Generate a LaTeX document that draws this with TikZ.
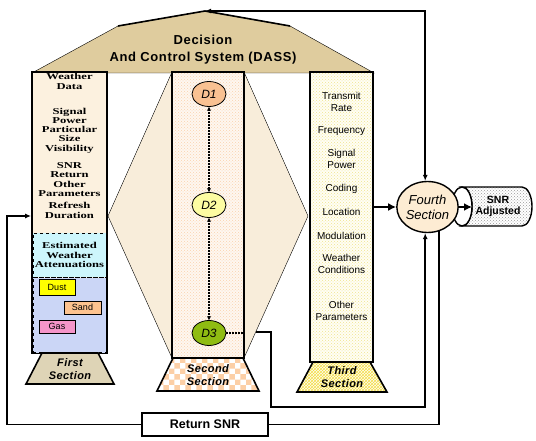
\documentclass[tikz,border=0pt]{standalone}
\usepackage{fontspec}
\setmainfont{Liberation Serif}
\setsansfont{Liberation Sans}
\newfontfamily\colfont{Liberation Serif}[FakeStretch=1.4]
\newfontfamily\roofont{Liberation Sans}[LetterSpace=5]
\newfontfamily\secfont{Liberation Sans}[LetterSpace=4]
\usepackage{xcolor}
\usepackage{tikz}
\usetikzlibrary{arrows.meta, positioning, calc, shapes.geometric, patterns}

\definecolor{roofcol}{HTML}{DFCC9E}
\definecolor{firstbg}{HTML}{FCF1DF}
\definecolor{hexbg}{HTML}{F8EDDA}
\definecolor{secondbg}{HTML}{FEF7F0}
\definecolor{seconddot}{HTML}{FAD2AE}
\definecolor{thirdbg}{HTML}{FFFEF4}
\definecolor{thirddot}{HTML}{F0E48E}
\definecolor{trapone}{HTML}{DED4B6}
\definecolor{traptwo}{HTML}{FCCFA6}
\definecolor{trapthree}{HTML}{F4DE4A}
\definecolor{estbg}{HTML}{CDF6FC}
\definecolor{attbg}{HTML}{CBD6F6}
\definecolor{dustcol}{HTML}{FFFF00}
\definecolor{sandcol}{HTML}{FDC38F}
\definecolor{gascol}{HTML}{F595C9}
\definecolor{donecol}{HTML}{F9C192}
\definecolor{dtwocol}{HTML}{FDFCA2}
\definecolor{dthreecol}{HTML}{8FBC12}
\definecolor{fourthbg}{HTML}{FDECD3}

\begin{document}
\begin{tikzpicture}[
    x=1pt, y=-1pt,
    >={Latex[length=6pt,width=5pt]},
    colbox/.style={draw, line width=1.8pt, inner sep=0pt},
    ctext/.style={font=\colfont\bfseries\fontsize{9}{9.5}\selectfont, align=center},
    ptext/.style={font=\sffamily\fontsize{10}{12}\selectfont, align=center},
    sectext/.style={font=\secfont\bfseries\itshape\fontsize{11}{13}\selectfont, align=center},
    dnode/.style={ellipse, draw, thick, minimum width=34pt, minimum height=25pt, inner sep=0pt,
        font=\sffamily\itshape\fontsize{12}{12}\selectfont},
    attn/.style={draw, thick, minimum width=36pt, minimum height=13pt, inner sep=0pt,
        font=\sffamily\fontsize{9}{9}\selectfont},
    trapbox/.style={draw, line width=1.6pt},
    wire/.style={line width=1.6pt},
    bigarrow/.style={line width=2.6pt, -{Latex[length=8pt,width=8pt]}},
    dlink/.style={dash pattern=on 1.5pt off 1.5pt, line width=1.4pt,
        {Stealth[length=4pt,width=4pt]}-{Stealth[length=4pt,width=4pt]}}
]
\useasboundingbox (0,0) rectangle (536,441);

% roof
\coordinate (peak) at (205,11);
\filldraw[fill=roofcol, thin] (32,73) -- (118,26) -- (peak) -- (290,26) -- (374,73) -- cycle;
\draw[line width=1.6pt] (118,26) -- (peak) -- (290,26);
\node[font=\roofont\bfseries\fontsize{13}{17}\selectfont, align=center] (dass) at (203,49.5)
    {Decision\\And Control System (DASS)};

% hexagon behind the second section
\filldraw[fill=hexbg, thin] (108,216) -- (172,72) -- (244,72) -- (308,216) -- (244,358) -- (172,358) -- cycle;

% columns
\node[colbox, fill=firstbg, minimum width=75pt, minimum height=281pt] (first) at (69.5,212.5) {};
\node[colbox, preaction={fill=secondbg}, pattern=crosshatch dots, pattern color=seconddot,
    minimum width=72pt, minimum height=286pt] (second) at (208,215) {};
\node[colbox, preaction={fill=thirdbg}, pattern=crosshatch dots, pattern color=thirddot,
    minimum width=63pt, minimum height=290pt] (third) at (341.5,217) {};

% first section texts
\node[ctext] (wdata) at (69.5,81.5) {Weather\\Data};
\node[ctext] (spower) at (69.5,116) {Signal\\Power};
\node[ctext] (psize) at (69.5,139.5) {Particular\\Size\\Visibility};
\node[ctext] (snrret) at (69.5,170) {SNR\\Return};
\node[ctext] (othpar) at (69.5,189) {Other\\Parameters};
\node[ctext] (refresh) at (69.5,210.5) {Refresh\\Duration};

\node[ctext, draw, dashed, thick, fill=estbg, minimum width=73pt, minimum height=44pt,
    inner sep=0pt] (est) at (69.5,255) {Estimated\\Weather\\Attenuations};
\node[draw, dashed, thick, fill=attbg, minimum width=73pt, minimum height=75pt,
    inner sep=0pt, below=0pt of est] (att) {};
\node[attn, fill=dustcol, minimum height=16pt] (dust) at (57,287) {Dust};
\node[attn, fill=sandcol, minimum width=37pt] (sand) at (82.5,307.5) {Sand};
\node[attn, fill=gascol] (gas) at (57,326.5) {Gas};

% second section decisions
\node[dnode, fill=donecol] (d1) at (209,94) {D1};
\node[dnode, fill=dtwocol] (d2) at (209,205) {D2};
\node[dnode, fill=dthreecol] (d3) at (209,333) {D3};
\draw[dlink] (d1) -- (d2);
\draw[dlink] (d2) -- (d3);
\draw[dash pattern=on 1.5pt off 1.5pt, line width=1.4pt] (d3.east) -- (d3.east -| second.east);

% third section texts
\node[ptext] (trate) at (341.5,101.5) {Transmit\\Rate};
\node[ptext] (freq) at (341.5,131) {Frequency};
\node[ptext] (tpower) at (341.5,159) {Signal\\Power};
\node[ptext] (coding) at (341.5,189) {Coding};
\node[ptext] (loc) at (341.5,212) {Location};
\node[ptext] (modul) at (341.5,236) {Modulation};
\node[ptext] (wcond) at (341.5,264) {Weather\\Conditions};
\node[ptext] (tother) at (341.5,311) {Other\\Parameters};

% section feet
\draw[trapbox, fill=trapone] (42,353) -- (98,353) -- (114,384) -- (26,384) -- cycle;
\node[sectext] (sec1) at (70,369) {First\\Section};
\draw[trapbox, preaction={fill=white}, pattern=checkerboard, pattern color=traptwo]
    (173,358) -- (243,358) -- (259,391) -- (157,391) -- cycle;
\node[sectext] (sec2) at (208,375) {Second\\Section};
\draw[trapbox, preaction={fill=thirdbg}, pattern=crosshatch, pattern color=trapthree]
    (313,362) -- (370,362) -- (387,392) -- (297,392) -- cycle;
\node[sectext] (sec3) at (342,377.5) {Third\\Section};

% SNR adjusted drum
\filldraw[line width=1.4pt, preaction={fill=white}, pattern=crosshatch dots, pattern color=gray!80]
    (462,187) -- (522,187) arc[start angle=-90, end angle=90, x radius=10, y radius=19.5]
    -- (462,226) arc[start angle=90, end angle=-90, x radius=10, y radius=19.5] -- cycle;
\draw[line width=1.4pt, fill=white] (462,206.5) ellipse [x radius=10, y radius=19.5];
\coordinate (snrface) at (472,207);
\node[font=\sffamily\bfseries\fontsize{10.5}{11.5}\selectfont, align=center] (snrtext)
    at (498,206.5) {SNR\\Adjusted};

% fourth section
\node[ellipse, draw, line width=1.4pt, fill=fourthbg, minimum width=61pt, minimum height=51pt,
    inner sep=0pt, align=center, font=\sffamily\itshape\fontsize{13}{15}\selectfont]
    (fourth) at (427.5,207) {Fourth\\Section};

% connectors
\draw[bigarrow] (third.east |- fourth.west) -- (fourth.west);
\draw[bigarrow] (fourth.east) -- (snrface);
\draw[wire, <->] (peak) -| (fourth.95);

\coordinate (hexout) at (255.7,332);
\draw[wire, ->] (hexout) -| (271,407) -| (fourth.265);

\node[draw, line width=1.6pt, minimum width=126pt, minimum height=23pt, inner sep=0pt,
    font=\sffamily\bfseries\fontsize{12.5}{12.5}\selectfont] (ret) at (205,424.5) {Return SNR};
\draw[wire] (fourth.295) |- (ret.east);
\coordinate (loopin) at (7,216);
\draw[wire, ->] (ret.west) -| (loopin) -- (loopin -| first.west);

\end{tikzpicture}
\end{document}
